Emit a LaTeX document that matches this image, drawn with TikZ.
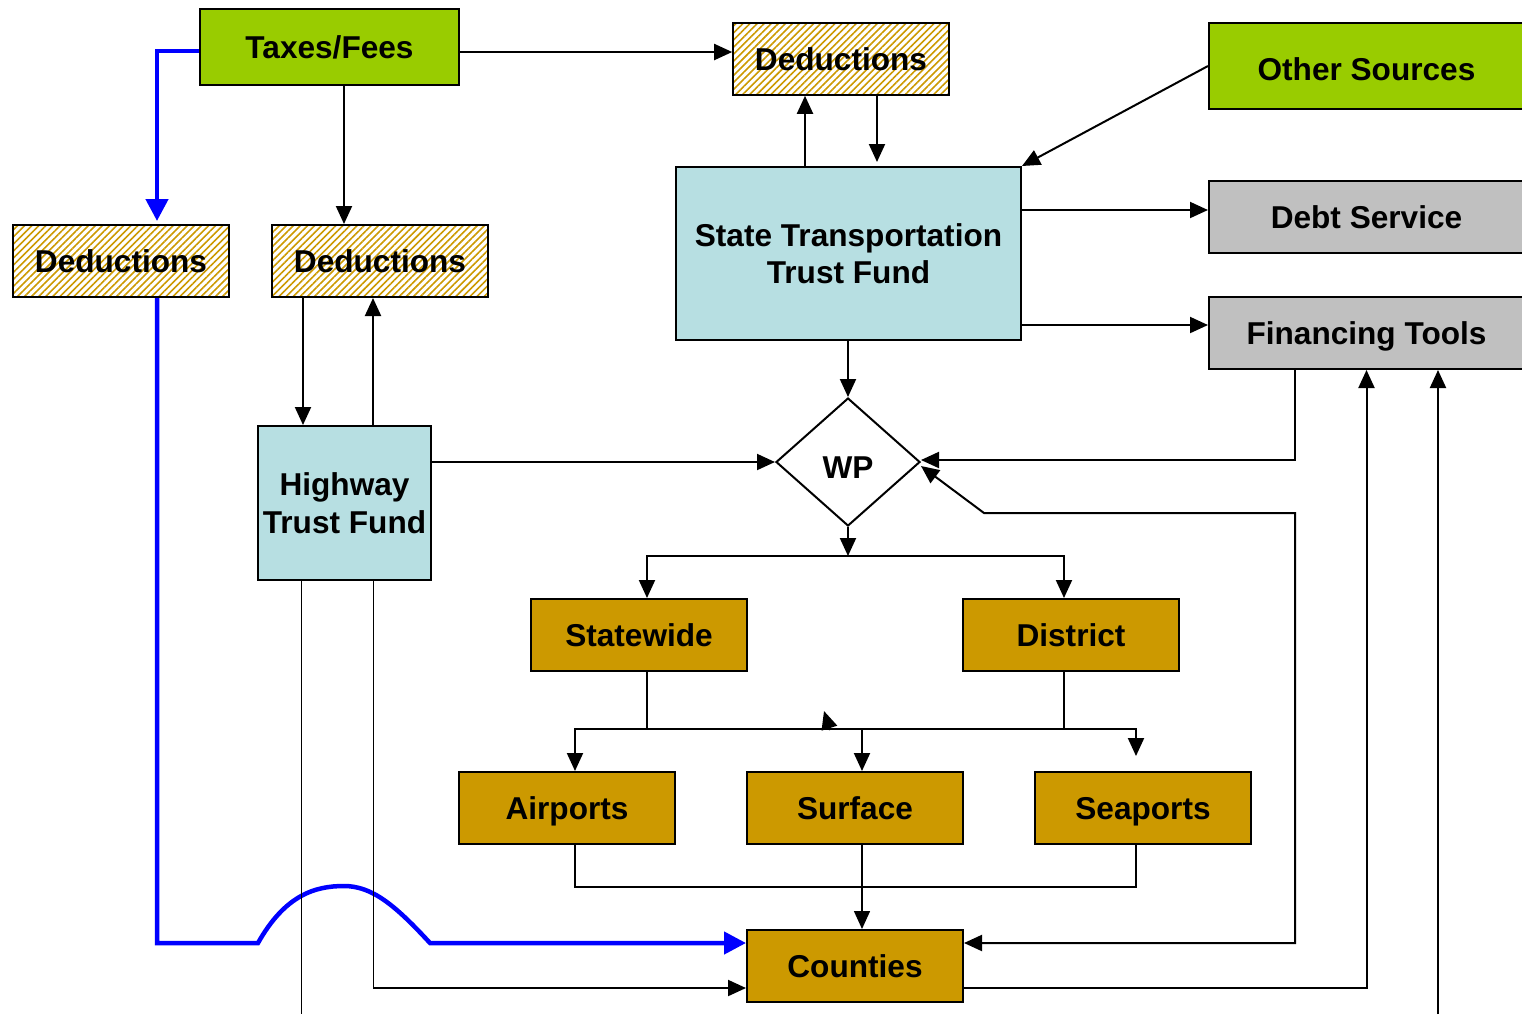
\documentclass[tikz,border=0pt]{standalone}
\usepackage{fontspec}
\setmainfont{Liberation Sans}
\usetikzlibrary{arrows.meta}
\usetikzlibrary{shapes.geometric}
\usetikzlibrary{patterns.meta}
\usetikzlibrary{positioning}
\definecolor{leafgreen}{HTML}{99CC00}
\definecolor{ochre}{HTML}{CC9900}
\definecolor{paleblue}{HTML}{B7DFE2}
\definecolor{silver}{HTML}{C0C0C0}
\tikzset{
  every node/.style={font=\fontsize{15.8}{18.8}\selectfont\bfseries},
  box/.style={draw,line width=1pt,inner sep=0pt,align=center},
  oneline/.style={text height=11.3pt,text depth=0pt},
  sourcebox/.style={box,oneline,fill=leafgreen},
  dedbox/.style={box,oneline,minimum width=108pt,minimum height=36pt,
    pattern={Lines[angle=45,distance=2.5pt,line width=0.8pt]},pattern color=ochre},
  fundbox/.style={box,fill=paleblue},
  outbox/.style={box,oneline,fill=silver,minimum width=157.5pt,minimum height=36pt},
  progbox/.style={box,oneline,fill=ochre,minimum width=108pt,minimum height=36pt},
  wpbox/.style={draw,line width=1pt,diamond,aspect=1.125,text height=16.3pt,text depth=0pt,
    minimum width=72pt,minimum height=64pt,inner sep=0pt},
  link/.style={draw,line width=1pt},
  lightlink/.style={draw,line width=0.75pt},
  thinlink/.style={draw,line width=0.5pt},
  bluelink/.style={draw,blue,line width=2.25pt,>={Triangle[length=11pt,width=11pt]}}}

\begin{document}
\begin{tikzpicture}[x=0.5pt,y=-0.5pt,>={Triangle[length=9pt,width=8pt]}]
  \useasboundingbox (0,0) rectangle (1522,1014);
  \node [sourcebox,minimum width=129.5pt,minimum height=38pt] (taxes) at (329.5,47) {Taxes/Fees};
  \node [sourcebox,text height=14.3pt,minimum width=157.5pt,minimum height=43pt] (other) at (1366.5,66) {Other Sources};
  \node [dedbox] (dedtop) at (841,59) {Deductions};
  \node [dedbox] (dedleft) at (121,261) {Deductions};
  \node [dedbox] (dedmid) at (380,261) {Deductions};
  \node [fundbox,minimum width=172.5pt,minimum height=86.5pt] (sttf) at (848.5,253.5) {State Transportation\\Trust Fund};
  \node [outbox] (debt) at (1366.5,217) {Debt Service};
  \node [outbox] (fintools) at (1366.5,333) {Financing Tools};
  \node [fundbox,minimum width=86.5pt,minimum height=77pt] (htf) at (344.5,503) {Highway\\Trust Fund};
  \node [wpbox] (wp) at (848,462) {WP};
  \node [progbox] (statewide) at (639,635) {Statewide};
  \node [progbox] (district) at (1071,635) {District};
  \node [progbox] (airports) at (567,808) {Airports};
  \node [progbox] (surface) at (855,808) {Surface};
  \node [progbox] (seaports) at (1143,808) {Seaports};
  \node [progbox] (counties) at (855,966) {Counties};

  \coordinate (bottom) at (0,1014);
  \coordinate (humpL) at (258,943);
  \coordinate (humpT) at (344,886);
  \coordinate (humpR) at (430,943);
  \coordinate (kink) at (984,513);
  \coordinate (rbend) at (1295,513);
  \coordinate (wpsplit) at (848,556);
  \coordinate (midbus) at (862,729);
  \coordinate (lowbus) at (862,887);
  \coordinate (strayA) at (830,730);
  \coordinate (strayB) at (824,711);
  \coordinate (taxright) at ([yshift=-2.5pt]taxes.east);
  \coordinate (taxdown) at ([xshift=7.25pt]taxes.south);
  \coordinate (bluein) at ([xshift=18pt,yshift=1.5pt]dedleft.north);
  \coordinate (blueout) at ([xshift=18pt]dedleft.south);
  \coordinate (sttfup) at ([xshift=-21.75pt]sttf.north);
  \coordinate (sttfdown) at ([xshift=14.25pt,yshift=2pt]sttf.north);
  \coordinate (debtin) at ([yshift=3.5pt]debt.west);
  \coordinate (finin) at ([yshift=4pt]fintools.west);
  \coordinate (htfin) at ([xshift=-20.75pt]htf.north);
  \coordinate (htfout) at ([xshift=14.25pt]htf.north);
  \coordinate (finout) at ([xshift=-35.75pt]fintools.south);
  \coordinate (finback) at ([xshift=35.75pt]fintools.south);
  \coordinate (htfleft) at ([xshift=-21.75pt]htf.south);
  \coordinate (htfright) at ([xshift=14.25pt]htf.south);
  \coordinate (cntblue) at ([yshift=11.5pt]counties.west);
  \coordinate (cntin) at ([yshift=-11pt]counties.west);
  \coordinate (cntright) at ([yshift=11.5pt]counties.east);
  \coordinate (cntout) at ([yshift=-11pt]counties.east);

  \draw [link,->] (taxright) -- (taxright -| dedtop.west);
  \draw [link,->] (taxdown) -- (taxdown |- dedmid.north);
  \draw [bluelink,->] ([yshift=-2pt]taxes.west) -| (bluein);
  \draw [bluelink,->] (blueout) |- (humpL) .. controls (285,895) and (315,886) .. (humpT)
    .. controls (372,886) and (395,905) .. (humpR) -- (cntblue);
  \draw [link,->] (sttfup) -- (sttfup |- dedtop.south);
  \draw [link,->] (sttfdown |- dedtop.south) -- (sttfdown);
  \draw [link,->] (other.west) -- (sttf.north east);
  \draw [link,->] (sttf.east |- debtin) -- (debtin);
  \draw [link,->] (sttf.east |- finin) -- (finin);
  \draw [link,->] (wp.north |- sttf.south) -- (wp.north);
  \draw [link,->] (htfin |- dedmid.south) -- (htfin);
  \draw [link,->] (htfout) -- (htfout |- dedmid.south);
  \draw [link,->] (htf.east |- wp.west) -- (wp.west);
  \draw [link,->] (finout) |- ([yshift=1pt]wp.east);
  \draw [link,<->] ([yshift=-2pt]wp.east) -- (kink) -- (rbend) |- (cntright);
  \draw [link,->] (wp.south) -- (wpsplit);
  \draw [link,->] (wpsplit) -| ([xshift=4pt]statewide.north);
  \draw [link,->] (wpsplit) -| ([xshift=-3.5pt]district.north);
  \draw [lightlink] ([xshift=4pt]statewide.south) |- (midbus);
  \draw [lightlink] ([xshift=-3.5pt]district.south) |- (midbus);
  \draw [link,->] (midbus) -| ([xshift=4pt]airports.north);
  \draw [link,->] (midbus) -- ([xshift=3.5pt]surface.north);
  \draw [link,->] (midbus) -| ([xshift=-3.5pt,yshift=7.5pt]seaports.north);
  \draw [link,->] (strayA) -- (strayB);
  \draw [lightlink] ([xshift=4pt]airports.south) |- (lowbus) -| ([xshift=-3.5pt]seaports.south);
  \draw [lightlink,->] ([xshift=3.5pt]surface.south) -- ([xshift=3.5pt]counties.north);
  \draw [thinlink] (htfleft) -- (htfleft |- bottom);
  \draw [thinlink] (htfright) -- (htfright |- cntin);
  \draw [link,->] (htfright |- cntin) -- (cntin);
  \draw [link,->] (cntout) -| (fintools.south);
  \draw [link,->] (finback |- bottom) -- (finback);
\end{tikzpicture}
\end{document}
